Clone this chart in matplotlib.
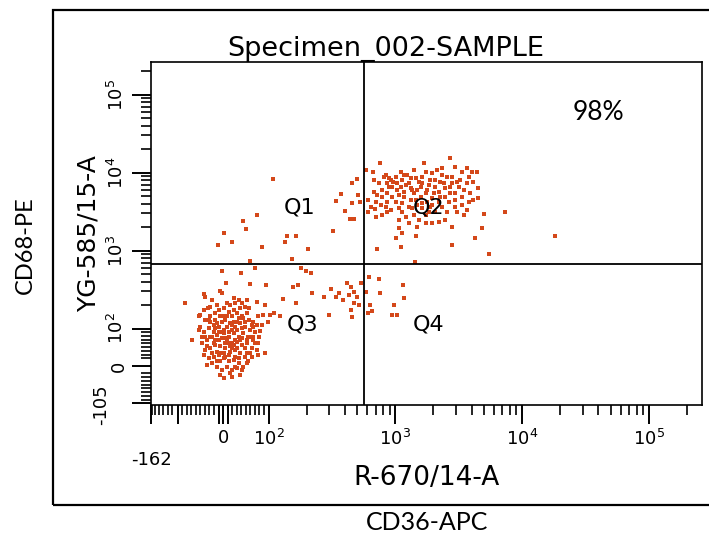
#!/usr/bin/env python3

import matplotlib
matplotlib.use("Agg")
import matplotlib.pyplot as plt
from matplotlib.patches import Rectangle

plt.rcParams['font.family'] = ['DejaVu Sans']
plt.rcParams['mathtext.default'] = 'regular'

# gate population Q3 (double negative, near zero)
q3_x = [-83, -69, -43, -39, -7, -3, 8, 23, 34, 41,
        48, 58, 74, 92, 88, 77, 66, 58, 44, 30,
        23, 12, 1, -14, -28, -43, -50, -39, -28, -17,
        -7, 4, 15, 26, 37, 48, 59, 70, 81, 79,
        66, 55, 44, 34, 23, 12, 1, -10, -21, -32,
        -43, -50, -47, -36, -25, -14, -3, 8, 19, 30,
        41, 52, 63, 74, 92, 77, 59, 48, 37, 26,
        15, 4, -7, -17, -28, -39, -43, -32, -21, -10,
        1, 12, 23, 34, 44, 55, 41, 30, 19, 8,
        -3, -14, -25, -36, -7, 1, 19, -14, -21, -3,
        8, 19, 30, 41, 52, 63, 12, 26, 1, -10,
        -21, 30, 37, 48, 15, 4, -7, -28, 59, 70,
        -32, -17, -10, 15, 26, 37, 52, -25, -34, -54,
        -47, -36, -54, 74, 85, 26, 34, 52, 63, 12,
        -14, -25, 1, 23, 8, -3, 12, 30, 4, 19,
        -10, -17, 41, 52, 66, 26, 15, 37, -28, -14,
        1, 19, 34, 48, 41, 19, -17, -39, -7, 23,
        66, 77, 52, 4]
q3_y = [211, 68, 278, 257, 307, 289, 211, 245, 233, 211,
        191, 182, 222, 201, 150, 143, 123, 129, 136, 157,
        173, 165, 182, 201, 191, 173, 150, 129, 143, 157,
        143, 129, 117, 106, 117, 106, 96, 92, 94, 78,
        69, 78, 87, 78, 87, 92, 96, 106, 111, 101,
        92, 106, 78, 69, 78, 83, 74, 69, 61, 65,
        56, 61, 47, 43, 34, 29, 34, 25, 34, 43,
        38, 47, 52, 56, 47, 43, 29, 20, 25, 29,
        20, 12, 16, 7, -2, 12, -11, -6, -11, -2,
        -11, -2, 7, 3, -24, -33, -29, 12, 61, 123,
        106, 143, 123, 143, 157, 111, 78, 69, 87, 69,
        92, 96, 69, 47, 52, 25, 12, 78, 78, 61,
        129, 129, 173, 201, 211, 182, 233, 233, 182, 143,
        61, 52, 96, 111, 111, 25, 20, 34, 25, 29,
        38, 34, 34, 123, 143, 92, 61, 47, 74, 96,
        92, 101, 101, 69, 78, -2, -20, -24, 123, 117,
        143, 111, 136, 123, 74, 47, 69, 78, 34, 56,
        106, 61, 7, 61]

# gate population Q2 (double positive)
q2_x = [755, 584, 667, 813, 890, 955, 1036, 1135, 1242, 1401,
        1680, 1952, 2137, 2338, 2717, 2973, 3352, 3668, 4014, 4392,
        4526, 4136, 3668, 3157, 2800, 2559, 2269, 2073, 1839, 1630,
        1489, 1319, 1170, 1069, 945, 866, 789, 722, 702, 640,
        693, 766, 837, 918, 1006, 1135, 1280, 1445, 1581, 1731,
        1952, 2202, 2483, 2717, 2973, 3352, 3780, 4136, 4526, 5049,
        7352, 4866, 4262, 5488, 2800, 1445, 1427, 722, 1101, 1006,
        1135, 1069, 1280, 1535, 1731, 1952, 2202, 2483, 2800, 3064,
        3454, 2559, 2073, 1839, 1630, 1401, 1206, 1069, 866, 789,
        702, 609, 613, 681, 866, 945, 1101, 1280, 1445, 1630,
        1894, 2338, 2800, 3253, 3780, 1170, 1360, 2202, 2483, 1630,
        1952, 1489, 837, 918, 1006, 1101, 1319, 1535, 1731, 2073,
        2410, 2717, 3064, 3454, 3900, 2973, 2640, 2338, 1785, 1489,
        1319, 1170, 1036, 890, 789, 742, 1206, 1401, 1785, 2010,
        2269, 1069, 1360, 1731, 2973, 3668, 866, 681, 1135, 3352,
        1581, 1894, 18300]
q2_y = [13180, 10720, 10090, 8890, 8460, 7670, 7300, 8050, 9330, 10810,
        13180, 9800, 10810, 11360, 15300, 11940, 10300, 11360, 10300, 10300,
        6300, 7670, 7300, 6620, 7300, 8890, 7670, 6620, 6950, 7300,
        6000, 6300, 5710, 5170, 4920, 5430, 6000, 5170, 4250, 3660,
        3390, 3850, 3660, 3320, 4250, 4040, 3660, 4460, 4920, 5430,
        4690, 4250, 4920, 5430, 4460, 3850, 4250, 4460, 4690, 2950,
        3160, 1930, 1470, 906, 1180, 1540, 723, 1040, 1120, 1440,
        1670, 1930, 2240, 2470, 2240, 2240, 2350, 2470, 2030, 3160,
        2870, 3160, 3160, 3160, 3490, 2870, 2730, 2470, 3160, 2870,
        2730, 3160, 4460, 8050, 7450, 6620, 6620, 7300, 8460, 8890,
        8050, 9330, 8890, 8050, 8890, 9330, 6000, 5710, 6300, 4040,
        3850, 2030, 9330, 8050, 8890, 10300, 8460, 7670, 10300, 8050,
        7300, 6620, 7670, 6000, 5430, 5430, 4250, 3660, 4250, 3850,
        4460, 4920, 6000, 6620, 4920, 7300, 6950, 5430, 6000, 5430,
        4920, 3490, 3490, 2870, 3660, 3320, 4250, 5710, 3160, 4920,
        6620, 3660, 1540]

# scattered events (Q1, Q3 tail, Q4)
other_x = [108, 75, 44, 50, 3, 19, -12, 85, 139, 165,
           134, 204, 152, 59, 320, 340, 372, 400, 438, 473,
           453, 502, 511, 524, 453,
           -3, 39, 70, 180, 198, 216, 7, 59, 95, 157,
           170, 219, 165, 130, 111, 122, 99, 102, 310, 361,
           275, 301, 415, 446, 473, 502, 432, 518, 453, 584,
           620, 742, 751, 632, 613, 659, 977, 934, 1024, 1156,
           1170, 446, 384, 340, 534, 473]
other_y = [8220, 2900, 2380, 1910, 1670, 1280, 1180, 1100, 1560, 1560,
           1280, 1060, 789, 730, 1800, 4380, 5270, 3230, 2520, 2520,
           7450, 8220, 5170, 4250, 4040,
           554, 522, 605, 594, 554, 512, 389, 370, 363, 345,
           363, 289, 211, 238, 157, 143, 123, 150, 323, 284,
           257, 150, 389, 345, 298, 257, 270, 201, 140, 298,
           464, 429, 284, 201, 160, 170, 201, 150, 150, 363,
           245, 173, 233, 257, 383, 215]

quad_x = 565
quad_y = 675
quad_labels = ["Q1", "Q2", "Q3", "Q4"]
quad_label_x = [175, 1840, 185, 1840]
quad_label_y = [3620, 3620, 111, 111]
x_major = [-162, -100, -10, 0, 10, 100, 1e3, 1e4, 1e5]
x_major_labels = ['', '', '', '0', '', '$10^2$', '$10^3$', '$10^4$', '$10^5$']
y_major = [-100, 0, 100, 1e3, 1e4, 1e5]
y_major_labels = ['', '0', '$10^2$', '$10^3$', '$10^4$', '$10^5$']

dot_color = '#d4481a'


def minor_ticks(lo, hi):
    ticks = [v for v in range(-160, 100, 10) if v not in (-100, -10, 0, 10)]
    for k in range(2, 6):
        ticks += [m * 10 ** k for m in range(2, 10)]
    return [t for t in ticks if lo <= t <= hi]


def main():
    fig = plt.figure(figsize=(7.09, 5.37), dpi=100)
    ax = fig.add_axes([0.213, 0.2458, 0.777, 0.6387])

    # matplotlib stretches linscale by 1/(1 - 1/base)
    ax.set_xscale('symlog', linthresh=100, linscale=0.323)
    ax.set_yscale('symlog', linthresh=100, linscale=0.432)
    ax.set_xlim(-162, 262144)
    ax.set_ylim(-105, 262144)

    for xs, ys in ((q3_x, q3_y), (q2_x, q2_y), (other_x, other_y)):
        ax.scatter(xs, ys, s=6, marker='s', color=dot_color, linewidths=0)

    ax.axvline(quad_x, color='black', lw=1.3)
    ax.axhline(quad_y, color='black', lw=1.3)

    for lab, qx, qy in zip(quad_labels, quad_label_x, quad_label_y):
        ax.text(qx, qy, lab, fontsize=16, ha='center', va='center')

    ax.set_xticks(x_major)
    ax.set_xticklabels(x_major_labels, fontsize=13)
    ax.set_xticks(minor_ticks(-162, 262144), minor=True)
    ax.set_yticks(y_major)
    ax.set_yticklabels(y_major_labels, fontsize=13, rotation=90, va='center')
    ax.set_yticks(minor_ticks(-105, 262144), minor=True)
    ax.tick_params(which='major', length=14, width=1.4, pad=3)
    ax.tick_params(which='minor', length=7, width=1.2)

    ax.text(-162, -0.16, '-162', transform=ax.get_xaxis_transform(),
            fontsize=13, ha='center', va='center')
    ax.text(-0.09, -105, '-105', transform=ax.get_yaxis_transform(),
            fontsize=13, ha='center', va='center', rotation=90)

    for sp in ax.spines.values():
        sp.set_linewidth(1.2)

    ax.set_xlabel('R-670/14-A', fontsize=19, va='center')
    ax.xaxis.set_label_coords(0.5, -0.213)
    ax.set_ylabel('YG-585/15-A', fontsize=18, va='center', ha='center')
    ax.yaxis.set_label_coords(-0.114, 0.5)

    fig.text(386 / 709, 1 - 56 / 537, 'Specimen_002-SAMPLE', fontsize=19.5,
             ha='center', va='baseline')

    fig.add_artist(Rectangle((53 / 709, 1 - 505 / 537), 1.0, 495 / 537,
                             transform=fig.transFigure, fill=False,
                             lw=1.6, edgecolor='black'))

    fig.text(598 / 709, 1 - 112 / 537, '98%', fontsize=19,
             family=['Lato', 'DejaVu Sans'], ha='center', va='center')
    fig.text(25 / 709, 1 - 245 / 537, 'CD68-PE', fontsize=17, rotation=90,
             family=['Lato', 'DejaVu Sans'], ha='center', va='center')
    fig.text(427 / 709, 1 - 522 / 537, 'CD36-APC', fontsize=18,
             family=['Lato', 'DejaVu Sans'], ha='center', va='center')

    fig.savefig('out.png', dpi=100)


if __name__ == "__main__":
    main()
